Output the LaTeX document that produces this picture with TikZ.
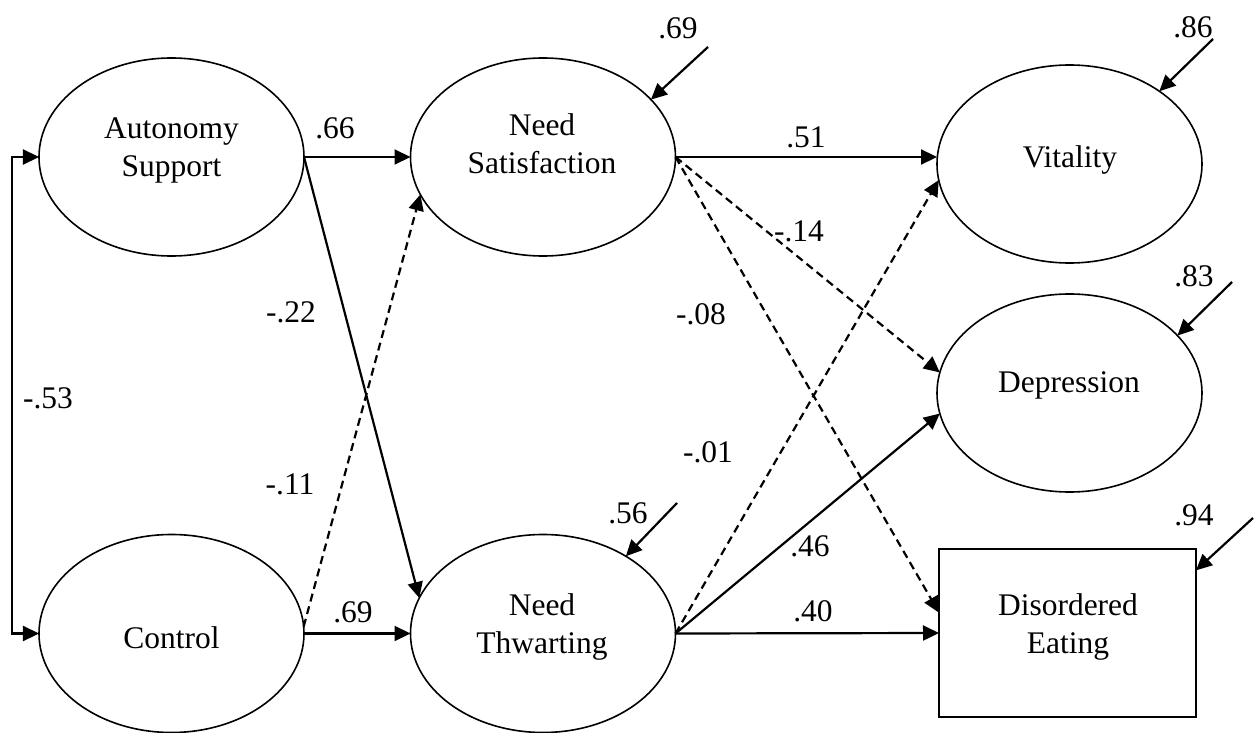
\documentclass[tikz,border=0pt]{standalone}
\usepackage{fontspec}
\setmainfont{Liberation Serif}
\usetikzlibrary{shapes.geometric,arrows.meta,calc}
\begin{document}
\begin{tikzpicture}[x=1bp,y=-1bp,
  font=\fontsize{31.6}{38}\selectfont,
  latent/.style={ellipse,draw,line width=1.6bp,minimum width=265bp,minimum height=198bp,inner sep=0pt,outer sep=0pt},
  observed/.style={rectangle,draw,line width=1.6bp,minimum width=257bp,minimum height=168bp,inner sep=0pt,outer sep=0pt},
  twoline/.style={anchor=north,align=center,inner sep=0pt},
  oneline/.style={anchor=base,inner sep=0pt},
  coef/.style={inner sep=0pt},
  tip/.tip={Triangle[length=16bp,width=15bp]},
  conn/.style={line width=2.2bp,-tip},
  weak/.style={conn,dash pattern=on 8bp off 5bp},
  corr/.style={line width=2.2bp,tip-tip},
]
\useasboundingbox (0,0) rectangle (1259,733);

% constructs
\node[latent] (aut) at (171.5,157) {};
\node[latent] (ctl) at (171.5,633.5) {};
\node[latent] (ns) at (543,157) {};
\node[latent] (nt) at (543,633.5) {};
\node[latent] (vit) at (1069.5,164) {};
\node[latent] (dep) at (1069.5,393) {};
\node[observed] (de) at (1067.5,633) {};

% construct names
\node[twoline] (autT) at (171.5,116.3) {\rule{0pt}{22bp}Autonomy\\Support};
\node[oneline] (ctlT) at (171.5,648) {Control};
\node[twoline] (nsT) at (542,113.7) {\rule{0pt}{22bp}Need\\Satisfaction};
\node[twoline] (ntT) at (542,593) {\rule{0pt}{22bp}Need\\Thwarting};
\node[oneline] (vitT) at (1070,167.5) {Vitality};
\node[oneline] (depT) at (1069,392.7) {Depression};
\node[twoline] (deT) at (1068,593) {\rule{0pt}{22bp}Disordered\\Eating};

% correlation between the predictors
\coordinate (cbar) at (12,0);
\draw[corr] (aut.west) -- (aut.west -| cbar) |- (ctl.west);

% structural paths
\draw[conn] (aut.east) -- (ns.west);
\draw[conn] (aut.east) -- (nt.164);
\draw[weak] (ctl.3) -- (ns.197);
\draw[conn] (ctl.east) -- (nt.west);
\draw[conn] (ns.east) -- (ns.east -| vit.west);
\draw[weak] (ns.east) -- (dep.171);
\draw[weak] (ns.east) -- (de.171);
\draw[weak] (nt.east) -- (vit.187);
\draw[conn] (nt.east) -- (dep.189);
\draw[conn] (nt.east) -- (de.west);

% residual terms
\coordinate (nsR) at (708,47);
\coordinate (vitR) at (1213,39);
\coordinate (depR) at (1232,282);
\coordinate (ntR) at (677,503);
\coordinate (deR) at (1253,518);
\draw[conn] (nsR) -- (ns.28);
\draw[conn] (vitR) -- (vit.39);
\draw[conn] (depR) -- (dep.28);
\draw[conn] (ntR) -- (nt.43);
\draw[conn] (deR) -- (de.26);

% coefficients
\node[coef] (c1) at (335,128) {.66};
\node[coef] (c2) at (291,312) {-.22};
\node[coef] (c3) at (48,398) {-.53};
\node[coef] (c4) at (290,484) {-.11};
\node[coef] (c5) at (353,612) {.69};
\node[coef] (c6) at (806,137) {.51};
\node[coef] (c7) at (799,231) {-.14};
\node[coef] (c8) at (701,314) {-.08};
\node[coef] (c9) at (708,452) {-.01};
\node[coef] (c10) at (810,546) {.46};
\node[coef] (c11) at (813,611) {.40};
\node[coef] (r1) at (678,28) {.69};
\node[coef] (r2) at (1193,27) {.86};
\node[coef] (r3) at (1194,276) {.83};
\node[coef] (r4) at (628,513) {.56};
\node[coef] (r5) at (1194,515) {.94};
\end{tikzpicture}
\end{document}
